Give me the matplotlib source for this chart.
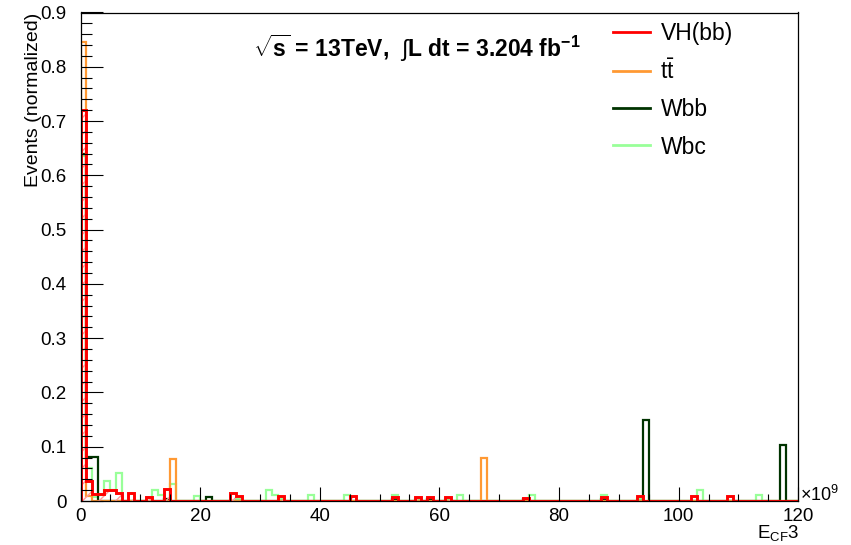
import numpy as np
import matplotlib
matplotlib.use('Agg')
from matplotlib import pyplot as plt
from matplotlib.ticker import MultipleLocator
from matplotlib.lines import Line2D

plt.rcParams['font.family'] = ['Liberation Sans', 'DejaVu Sans']
plt.rcParams['mathtext.fontset'] = 'custom'
plt.rcParams['mathtext.rm'] = 'Liberation Sans'
plt.rcParams['mathtext.bf'] = 'Liberation Sans:bold'
plt.rcParams['mathtext.it'] = 'Liberation Sans:italic'

# 120 bins of width 1 (x10^9), only non-empty bins listed
edges = np.linspace(0, 120, 121)

vh_bins = [0, 1, 2, 3, 4, 5, 6, 8, 11, 14, 25, 26, 33, 45, 52, 56, 58, 61, 74, 87, 93, 102, 108]
vh_vals = [0.72, 0.037, 0.013, 0.013, 0.021, 0.021, 0.015, 0.014, 0.008, 0.022, 0.015, 0.009,
           0.009, 0.009, 0.008, 0.008, 0.008, 0.008, 0.006, 0.008, 0.009, 0.009, 0.009]

tt_bins = [0, 1, 15, 67]
tt_vals = [0.845, 0.01, 0.077, 0.08]

wbb_bins = [0, 1, 2, 14, 21, 52, 58, 74, 87, 94, 117]
wbb_vals = [0.64, 0.081, 0.081, 0.003, 0.007, 0.003, 0.003, 0.004, 0.003, 0.15, 0.103]

wbc_bins = [0, 1, 2, 3, 4, 5, 6, 12, 13, 15, 19, 26, 31, 32, 33, 38, 44, 52, 56, 61, 63,
            75, 87, 93, 103, 113]
wbc_vals = [0.635, 0.061, 0.007, 0.011, 0.036, 0.02, 0.052, 0.021, 0.011, 0.032, 0.009, 0.003,
            0.02, 0.011, 0.003, 0.011, 0.011, 0.011, 0.003, 0.003, 0.011,
            0.011, 0.011, 0.003, 0.02, 0.011]


def fill(bins, vals):
    h = np.zeros(len(edges) - 1)
    h[bins] = vals
    return h


c_vh = '#ff0000'
c_tt = '#ff9933'
c_wbb = '#003300'
c_wbc = '#99ff99'

fig = plt.figure(figsize=(8.51, 5.45), dpi=100)
ax = fig.add_axes([80.5/851, 1-501/545, (798.3-80.5)/851, (501-12.5)/545])

ax.stairs(fill(wbc_bins, wbc_vals), edges, baseline=0, color=c_wbc, lw=1.6)
ax.stairs(fill(wbb_bins, wbb_vals), edges, baseline=0, color=c_wbb, lw=1.6)
ax.stairs(fill(tt_bins, tt_vals), edges, baseline=0, color=c_tt, lw=1.6)
h_vh = fill(vh_bins, vh_vals)
ax.stairs(h_vh, edges, baseline=0, fill=True, facecolor='none', edgecolor='#ff9999',
          hatch='//', lw=0)
ax.stairs(h_vh, edges, baseline=0, color=c_vh, lw=2.1)

ax.set_xlim(0, 120)
ax.set_ylim(0, 0.9)

ax.xaxis.set_major_locator(MultipleLocator(20))
ax.xaxis.set_minor_locator(MultipleLocator(5))
ax.yaxis.set_minor_locator(MultipleLocator(0.02))
ax.set_yticks(np.arange(0, 0.91, 0.1))
ax.set_yticklabels(['0'] + [f'{v:.1f}' for v in np.arange(0.1, 0.91, 0.1)])

ax.tick_params(axis='x', which='major', direction='in', length=10, width=0.8, pad=5, labelsize=13.5)
ax.tick_params(axis='x', which='minor', direction='in', length=5, width=0.8)
ax.tick_params(axis='y', which='major', direction='in', length=16, width=0.8, pad=10, labelsize=13.5)
ax.tick_params(axis='y', which='minor', direction='in', length=8, width=0.8)
for s in ax.spines.values():
    s.set_linewidth(0.9)

ax.set_ylabel('Events (normalized)', fontsize=14, loc='top', labelpad=-1)
fig.text(799/851, 2/545, r'E$_{\mathrm{CF}}$3', fontsize=13.5, ha='right', va='bottom')
fig.text(800/851, 1-495/545, r'$\times$10$^{9}$', fontsize=13, ha='left', va='center')

fig.text(253/851, 1-48/545, r'$\mathbf{\sqrt{s}}$ = 13TeV,  $\int$L dt = 3.204 fb$^{\mathbf{-1}}$',
         fontsize=16.5, fontweight='bold', ha='left', va='center')

handles = [Line2D([], [], color=c_vh, lw=2.0),
           Line2D([], [], color=c_tt, lw=2.0),
           Line2D([], [], color=c_wbb, lw=2.0),
           Line2D([], [], color=c_wbc, lw=2.0)]
labels = ['VH(bb)', r't$\bar{\mathrm{t}}$', 'Wbb', 'Wbc']
fig.legend(handles, labels, loc='upper left', bbox_to_anchor=(602/851, 1-11/545),
           frameon=False, fontsize=16.5, handlelength=1.6, handletextpad=0.45,
           labelspacing=0.62, borderpad=0)

fig.savefig('out.png', dpi=100)
